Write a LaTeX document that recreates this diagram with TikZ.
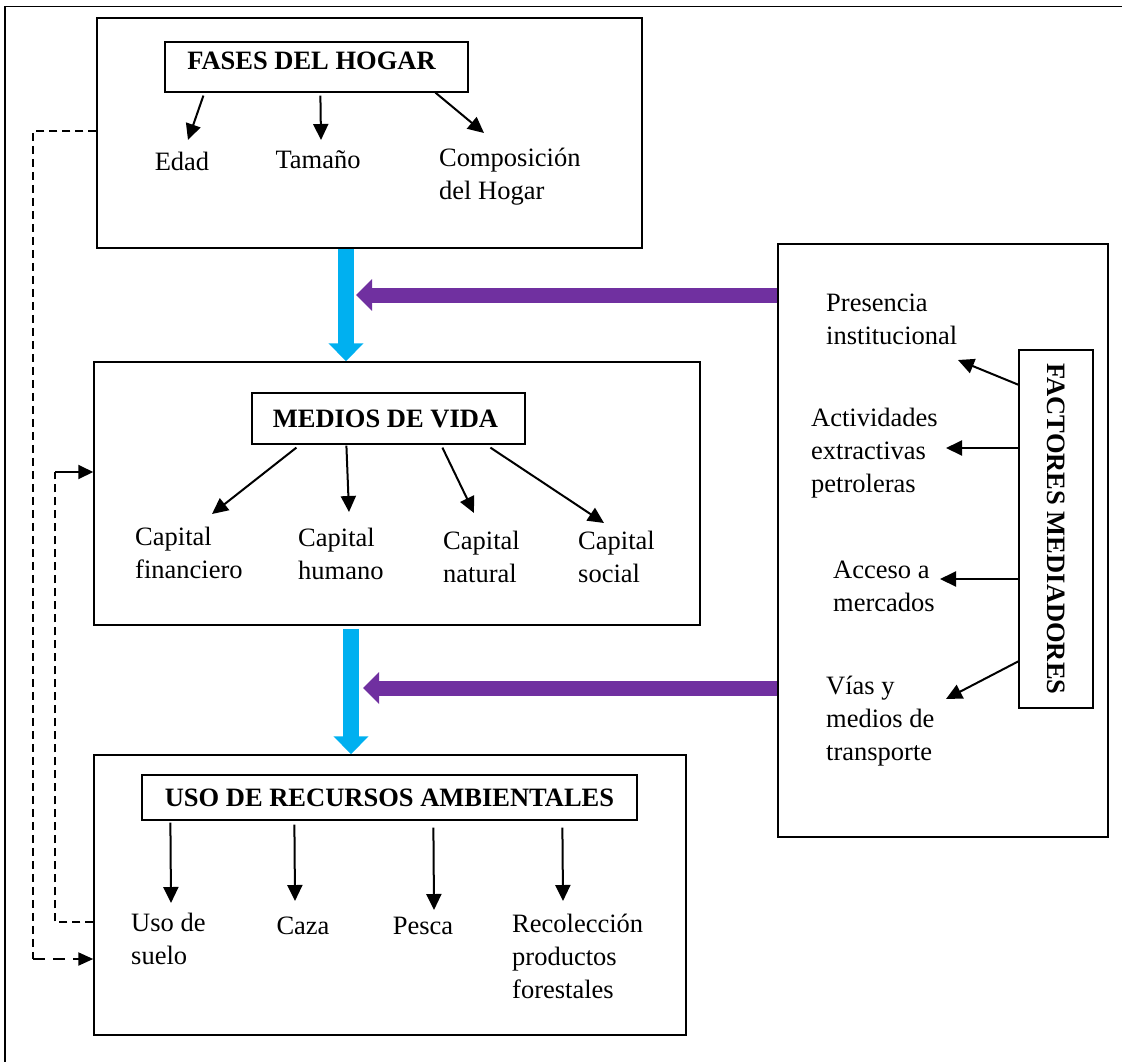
\documentclass[tikz,border=0pt]{standalone}
\usepackage{fontspec}
\setmainfont{Liberation Serif}
\usetikzlibrary{arrows.meta,calc}
\definecolor{cyanC}{HTML}{00B0F0}
\definecolor{purpC}{HTML}{7030A0}
\begin{document}
\begin{tikzpicture}[x=1pt,y=-1pt,
  every node/.style={font=\fontsize{26.5}{33}\selectfont},
  bigbox/.style={draw, line width=1.5pt, inner sep=0pt},
  titlebox/.style={draw, line width=1.2pt, inner sep=0pt, font=\fontsize{26.5}{33}\selectfont\bfseries},
  lbl/.style={align=left, inner sep=0pt},
  arr/.style={line width=2pt, -{Triangle[length=16pt,width=15pt]}},
  cyanarr/.style={draw=cyanC, line width=16pt, -{Triangle[length=18pt,width=34pt]}},
  purparr/.style={draw=purpC, line width=15pt, -{Triangle[length=16pt,width=31pt]}},
  dashline/.style={line width=1.3pt, dash pattern=on 8pt off 5pt}
]
\useasboundingbox (0,0) rectangle (1122,1061);
\draw[line width=1.3pt] (5,1075) -- (5,6.5) -- (1135,6.5);

% big boxes
\node[bigbox, minimum width=545pt, minimum height=230pt] (box1) at (369.5,133) {};
\node[bigbox, minimum width=606pt, minimum height=263pt] (box2) at (397,493.5) {};
\node[bigbox, minimum width=592pt, minimum height=280pt] (box3) at (390,895) {};
\node[bigbox, minimum width=330pt, minimum height=593pt] (box4) at (943,540.5) {};

% title boxes
\node[titlebox, minimum width=303pt, minimum height=50pt, text height=18pt, text depth=14pt] (t1) at (316.5,67) {FASES DEL HOGAR\hspace*{10pt}};
\node[titlebox, minimum width=273pt, minimum height=51pt] (t2) at (388.5,418.5) {MEDIOS DE VIDA\hspace*{6pt}};
\node[titlebox, minimum width=495pt, minimum height=45pt] (t3) at (389.5,797.5) {USO DE RECURSOS AMBIENTALES};
\node[titlebox, rotate=-90, minimum width=358pt, minimum height=74pt] (t4) at (1056,529) {FACTORES MEDIADORES};

% labels
\node[lbl, anchor=base] (edad) at (182,170) {Edad};
\node[lbl, anchor=base] (tam) at (318,168) {Tamaño};
\node[lbl, anchor=base west] (comp) at (439,199) {Composición\\del Hogar};

\node[lbl, anchor=base west] (cfin) at (135,578) {Capital\\financiero};
\node[lbl, anchor=base west] (chum) at (298,579) {Capital\\humano};
\node[lbl, anchor=base west] (cnat) at (443,582) {Capital\\natural};
\node[lbl, anchor=base west] (csoc) at (578,582) {Capital\\social};

\node[lbl, anchor=base west] (uso) at (131,964) {Uso de\\suelo};
\node[lbl, anchor=base] (caza) at (303,934) {Caza};
\node[lbl, anchor=base] (pesca) at (423,934) {Pesca};
\node[lbl, anchor=base west] (reco) at (512,998) {Recolección\\productos\\forestales};

\node[lbl, anchor=base west] (pres) at (826,344) {Presencia\\institucional};
\node[lbl, anchor=base west] (acti) at (811,492) {Actividades\\extractivas\\petroleras};
\node[lbl, anchor=base west] (acce) at (833,611) {Acceso a\\mercados};
\node[lbl, anchor=base west] (vias) at (826,760) {Vías y\\medios de\\transporte};

% arrow tips
\coordinate (eEdad) at (188,140);
\coordinate (eTam) at (321,140);
\coordinate (eComp) at (484,133);
\coordinate (eFin) at (212,514);
\coordinate (eHum) at (349,512);
\coordinate (eNat) at (474,513);
\coordinate (eSoc) at (604,523);
\coordinate (eUso) at (171,903);
\coordinate (eCaza) at (295,901);
\coordinate (ePes) at (434,910);
\coordinate (eRec) at (563,901);
\coordinate (ePre) at (958,360);
\coordinate (eAct) at (946,448);
\coordinate (eAcc) at (940,579);
\coordinate (eVia) at (946,699);

\draw[arr] ($(t1.south west)+(39,3)$) -- (eEdad);
\draw[arr] ($(t1.south west)+(156,3)$) -- (eTam);
\draw[arr] ($(t1.south west)+(271,0)$) -- (eComp);

\draw[arr] ($(t2.south west)+(45,3)$) -- (eFin);
\draw[arr] ($(t2.south west)+(95,1)$) -- (eHum);
\draw[arr] ($(t2.south west)+(191,3)$) -- (eNat);
\draw[arr] ($(t2.south west)+(239,3)$) -- (eSoc);

\draw[arr] ($(t3.south west)+(29,2)$) -- (eUso);
\draw[arr] ($(t3.south west)+(153,4)$) -- (eCaza);
\draw[arr] ($(t3.south west)+(292,7)$) -- (ePes);
\draw[arr] ($(t3.south west)+(421,7)$) -- (eRec);

\draw[arr] ($(t4.center)+(-37,-144)$) -- (ePre);
\draw[arr] ($(t4.center)+(-37,-81)$) -- (eAct);
\draw[arr] ($(t4.center)+(-37,50)$) -- (eAcc);
\draw[arr] ($(t4.center)+(-37,132)$) -- (eVia);

% thick arrows
\coordinate (c1) at (346,0);
\coordinate (c2) at (351,0);
\coordinate (p1) at (356,295);
\coordinate (p2) at (363,688);
\draw[cyanarr] (box1.south -| c1) -- (box2.north -| c1);
\draw[cyanarr] ($(box2.south -| c2)+(0,3)$) -- (box3.north -| c2);
\draw[purparr] (box4.west |- p1) -- (p1);
\draw[purparr] (box4.west |- p2) -- (p2);

% dashed feedback lines
\coordinate (o1) at (33,131);
\coordinate (o2) at (33,959);
\coordinate (i1) at (55,922);
\coordinate (i2) at (55,472);
\draw[dashline] ($(box1.west)+(0,-2)$) -- (o1) -- (o2);
\draw[line width=2.2pt, dash pattern=on 12pt off 8pt, -{Triangle[length=15pt,width=13pt]}] (o2) -- (box3.west |- o2);
\draw[dashline] ($(box3.west)+(0,27)$) -- (i1) -- (i2);
\draw[line width=2pt, -{Triangle[length=15pt,width=14pt]}] (i2) -- (box2.west |- i2);
\end{tikzpicture}
\end{document}
